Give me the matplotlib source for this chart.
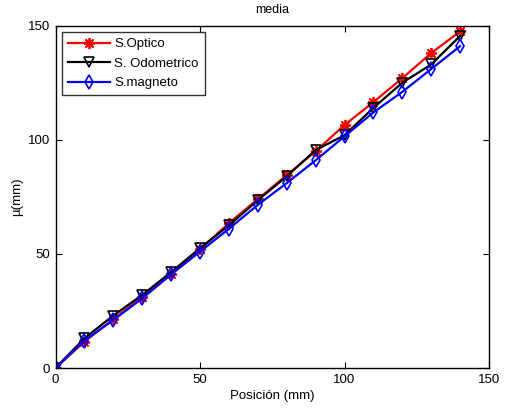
import matplotlib
matplotlib.use('Agg')
import matplotlib.pyplot as plt

plt.rcParams['font.family'] = ['Liberation Sans', 'DejaVu Sans']

# datos
posicion = [0, 10, 20, 30, 40, 50, 60, 70, 80, 90, 100, 110, 120, 130, 140]
optico = [0, 11.5, 21.5, 31, 41, 52, 63.5, 74, 84.5, 95, 106.5, 116.5, 127, 138, 147.5]
odometrico = [0, 13, 23, 32, 42, 52.5, 62.5, 73.5, 84, 95.5, 102, 114, 125, 133, 145.5]
magneto = [0, 12, 21, 30.5, 41, 51, 61, 71.5, 81, 91, 101.5, 112, 121, 131, 141]
etiquetas = ['S.Optico', 'S. Odometrico', 'S.magneto']

fig = plt.figure(figsize=(5.06, 4.09), dpi=100)
ax = fig.add_axes((0.1097, 0.1002, 0.8567, 0.8370))

ax.plot(posicion, optico, color='#ff0000', lw=1.6, marker=(8, 2, 0), ms=8,
        mfc='#ff0000', mec='#ff0000', mew=1.3, label=etiquetas[0])
ax.plot(posicion, odometrico, color='black', lw=1.6, marker='v', ms=7,
        mfc='none', mec='black', mew=1.2, label=etiquetas[1])
ax.plot(posicion, magneto, color='#0000ff', lw=1.6, marker='d', ms=7,
        mfc='none', mec='#0000ff', mew=1.2, label=etiquetas[2])

ax.set_xlim(0, 150)
ax.set_ylim(0, 150)
ax.set_xticks([0, 50, 100, 150])
ax.set_yticks([0, 50, 100, 150])
ax.tick_params(direction='in', top=True, right=True, labelsize=9.5, length=4, pad=4)
for s in ax.spines.values():
    s.set_linewidth(1.0)

ax.set_title('media', fontsize=9, pad=9)
ax.set_xlabel('Posición (mm)', fontsize=9.5, labelpad=3)
ax.set_ylabel('µ(mm)', fontsize=9.5, labelpad=3)

leg = ax.legend(loc='upper left', fontsize=9.5, fancybox=False, edgecolor='black',
                borderaxespad=0.5, handlelength=3.2, labelspacing=0.55,
                borderpad=0.45, handletextpad=0.3)
leg.get_frame().set_linewidth(1.0)

fig.savefig('out.png', dpi=100)
